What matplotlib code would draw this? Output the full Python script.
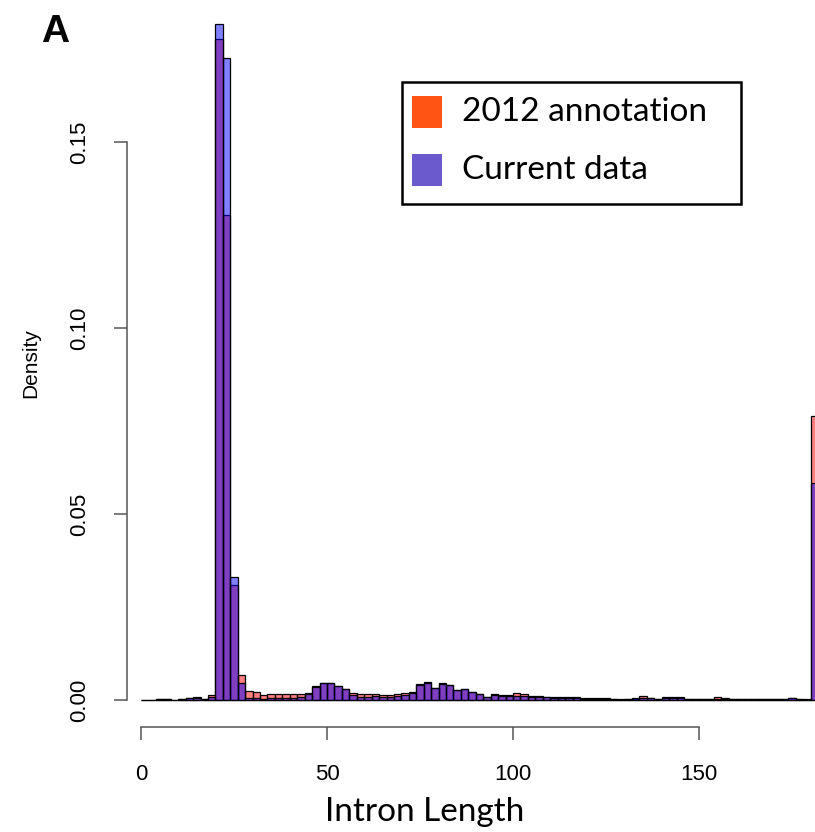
import numpy as np
import matplotlib
matplotlib.use("Agg")
import matplotlib.pyplot as plt
from matplotlib.patches import Rectangle

### ==========================
### data (density per 2 bp bin, last bin is 180+)
### ==========================

bin_edges = np.arange(0, 184, 2)

annot_2012 = [0.0, 0.0, 0.0004, 0.0003, 0.0001, 0.0004, 0.0006, 0.0009, 0.0004, 0.0014,
              0.1777, 0.1304, 0.0310, 0.0066, 0.0023, 0.0022, 0.0014, 0.0016, 0.0015, 0.0015,
              0.0015, 0.0016, 0.0019, 0.0037, 0.0045, 0.0045, 0.0038, 0.0030, 0.0020, 0.0016,
              0.0016, 0.0016, 0.0013, 0.0013, 0.0016, 0.0018, 0.0022, 0.0042, 0.0048, 0.0033,
              0.0045, 0.0040, 0.0027, 0.0029, 0.0022, 0.0016, 0.0009, 0.0016, 0.0014, 0.0013,
              0.0018, 0.0016, 0.0012, 0.0012, 0.0009, 0.0009, 0.0009, 0.0009, 0.0007, 0.0005,
              0.0005, 0.0005, 0.0006, 0.0002, 0.0002, 0.0002, 0.0004, 0.0012, 0.0006, 0.0004,
              0.0007, 0.0007, 0.0007, 0.0004, 0.0003, 0.0004, 0.0003, 0.0008, 0.0006, 0.0004,
              0.0003, 0.0004, 0.0003, 0.0002, 0.0003, 0.0003, 0.0002, 0.0005, 0.0004, 0.0002,
              0.0763]

current_data = [0.0, 0.0, 0.0003, 0.0003, 0.0001, 0.0004, 0.0005, 0.0005, 0.0003, 0.0009,
                0.1817, 0.1725, 0.0331, 0.0045, 0.0005, 0.0005, 0.0004, 0.0005, 0.0005, 0.0005,
                0.0006, 0.0007, 0.0017, 0.0035, 0.0047, 0.0047, 0.0038, 0.0029, 0.0013, 0.0009,
                0.0009, 0.0011, 0.0009, 0.0007, 0.0011, 0.0013, 0.0018, 0.0040, 0.0047, 0.0032,
                0.0044, 0.0040, 0.0027, 0.0029, 0.0022, 0.0015, 0.0009, 0.0014, 0.0012, 0.0010,
                0.0012, 0.0011, 0.0009, 0.0008, 0.0007, 0.0006, 0.0006, 0.0005, 0.0005, 0.0004,
                0.0003, 0.0003, 0.0003, 0.0002, 0.0001, 0.0002, 0.0005, 0.0006, 0.0005, 0.0004,
                0.0006, 0.0006, 0.0005, 0.0004, 0.0002, 0.0004, 0.0002, 0.0004, 0.0004, 0.0003,
                0.0002, 0.0003, 0.0002, 0.0002, 0.0002, 0.0002, 0.0002, 0.0005, 0.0004, 0.0001,
                0.0583]

legend_labels = ["2012 annotation", "Current data"]
x_ticks = [0, 50, 100, 150]
y_ticks = [0.00, 0.05, 0.10, 0.15]

narrow = ["Liberation Sans Narrow", "Liberation Sans", "DejaVu Sans"]

fig = plt.figure(figsize=(8.15, 8.32), dpi=100)
ax = fig.add_axes([127 / 815, 105 / 832, 688 / 815, 727 / 832])

left = bin_edges[:-1]
ax.bar(left, annot_2012, width=2, align="edge", color=(1, 0, 0, 0.5),
       edgecolor="black", linewidth=0.9)
ax.bar(left, current_data, width=2, align="edge", color=(0, 0, 1, 0.5),
       edgecolor="black", linewidth=0.9)

ax.set_xlim(-3.76, 181.18)
ax.set_ylim(-0.00726, 0.18817)

# R style axes: lines only over the tick range
for s in ["top", "right"]:
    ax.spines[s].set_visible(False)
ax.spines["bottom"].set_bounds(0, 150)
ax.spines["left"].set_bounds(0, 0.15)
for s in ["bottom", "left"]:
    ax.spines[s].set_color("#555555")
    ax.spines[s].set_linewidth(1.1)

ax.set_xticks(x_ticks)
ax.set_xticklabels([str(t) for t in x_ticks], family=narrow, fontsize=16)
ax.set_yticks(y_ticks)
ax.set_yticklabels(["%.2f" % t for t in y_ticks], family=narrow, fontsize=16,
                   rotation=90, va="center")
ax.tick_params(axis="both", direction="out", length=9.5, width=1.1, color="#555555")
ax.tick_params(axis="x", pad=17)
ax.tick_params(axis="y", pad=17)

ax.set_ylabel("Density", family=narrow, fontsize=15, labelpad=21)

fig.text(425 / 815, 1 - 812 / 832, "Intron Length", family=["Lato", "DejaVu Sans"],
         fontsize=24, ha="center", va="center")
fig.text(55 / 815, 1 - 32 / 832, "A", family=["Liberation Sans", "DejaVu Sans"],
         fontsize=28, fontweight="bold", ha="center", va="center")

### legend box drawn by hand, like the pasted one in the original
leg_colors = ["#FF5414", "#6A5ACD"]
fig.patches.append(Rectangle((402 / 815, 1 - 204 / 832), 339 / 815, 122 / 832,
                             transform=fig.transFigure, facecolor="white",
                             edgecolor="black", linewidth=1.8))
for i in range(2):
    yc = 112 + i * 58
    fig.patches.append(Rectangle((412 / 815, 1 - (yc + 16) / 832), 30 / 815, 32 / 832,
                                 transform=fig.transFigure, facecolor=leg_colors[i],
                                 edgecolor="none"))
    fig.text(462 / 815, 1 - yc / 832, legend_labels[i], family=["Lato", "DejaVu Sans"],
             fontsize=24, ha="left", va="center")

fig.savefig("out.png", dpi=100)
